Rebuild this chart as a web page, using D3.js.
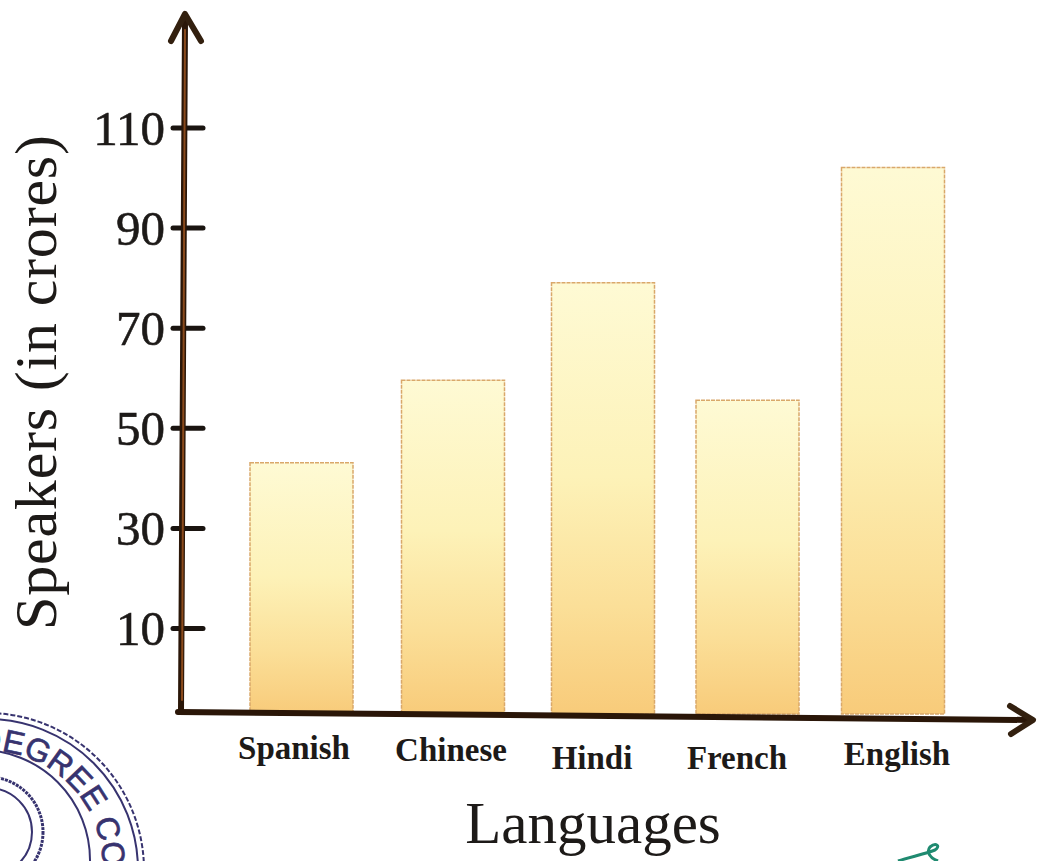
<!DOCTYPE html>
<html>
<head>
<meta charset="utf-8">
<script src="https://cdn.jsdelivr.net/npm/d3@7"></script>
<style>
    html, body { margin: 0; padding: 0; background: #fff; }
    svg { display: block; }
    text { font-family: "Liberation Serif", serif; fill: #1d1a18; }
</style>
</head>
<body>
<div id="chart"></div>
<script>
// Chart values
var languages = ['Spanish', 'Chinese', 'Hindi', 'French', 'English'];
var speakers = [43, 59.5, 79, 55.5, 102];
var yTicks = [10, 30, 50, 70, 90, 110];

var width = 1037, height = 861;
var svg = d3.select('#chart').append('svg')
    .attr('width', width)
    .attr('height', height);

// The printed axis is not to scale below 10, so the scale has a break there
var y = d3.scaleLinear()
    .domain([0, 10, 110])
    .range([712, 628, 127.5]);

// Bars are hand spaced in the original, so ordinal centres instead of a band scale
var barX = d3.scaleOrdinal().domain(languages).range([301.5, 453, 603, 747.5, 893]);
var labelX = d3.scaleOrdinal().domain(languages).range([294, 451, 592, 737, 897]);
var labelY = d3.scaleOrdinal().domain(languages).range([759, 761, 769, 769, 765]);
var barWidth = 103;

// Bar gradient
var defs = svg.append('defs');
var grad = defs.append('linearGradient')
    .attr('id', 'barFill')
    .attr('x1', 0).attr('y1', 0).attr('x2', 0).attr('y2', 1);
grad.append('stop').attr('offset', '0%').attr('stop-color', '#fefad4');
grad.append('stop').attr('offset', '45%').attr('stop-color', '#fdf2b8');
grad.append('stop').attr('offset', '75%').attr('stop-color', '#fbdf98');
grad.append('stop').attr('offset', '100%').attr('stop-color', '#f8cb7a');

// Bars
svg.selectAll('rect.bar')
    .data(languages)
    .enter()
    .append('rect')
    .attr('class', 'bar')
    .attr('x', function(d) { return barX(d) - barWidth / 2; })
    .attr('y', function(d, i) { return y(speakers[i]); })
    .attr('width', barWidth)
    .attr('height', function(d, i) { return y(0) - y(speakers[i]) + 2; })
    .attr('fill', 'url(#barFill)')
    .attr('stroke', '#d9a86a')
    .attr('stroke-width', 1.5)
    .attr('stroke-dasharray', '4 1');

// Y axis ticks and labels
var yAxis = d3.axisLeft(y).tickValues(yTicks).tickFormat(d3.format('d'));
var yG = svg.append('g').attr('transform', 'translate(183,0)').call(yAxis);
yG.select('.domain').remove();
yG.selectAll('.tick line')
    .attr('x1', -10).attr('x2', 20)
    .attr('stroke', '#1a1410')
    .attr('stroke-width', 5)
    .attr('stroke-linecap', 'round');
yG.selectAll('.tick text')
    .attr('x', -18)
    .attr('dy', '0.34em')
    .style('font-size', '49px')
    .style('font-family', '"Liberation Serif", serif')
    .attr('fill', '#1d1a18')
    .attr('stroke', '#1d1a18')
    .attr('stroke-width', 0.6);

// Axis lines with arrow heads, x axis sags slightly as in the photo
var axisPath = d3.line();
function drawAxis(points, color, w) {
    svg.append('path')
        .attr('d', axisPath(points))
        .attr('fill', 'none')
        .attr('stroke', color)
        .attr('stroke-width', w)
        .attr('stroke-linecap', 'round')
        .attr('stroke-linejoin', 'round');
}
drawAxis([[185, 20], [181, 712]], '#2a1608', 6);
drawAxis([[178, 712], [1030, 720]], '#2a1608', 6);
drawAxis([[171, 41], [185, 14], [201, 41]], '#33200f', 6);
drawAxis([[1010, 706], [1033, 720], [1011, 734]], '#33200f', 6);
// orange ink core of the printed lines
drawAxis([[185, 30], [182, 700]], '#8a4a1c', 2);

// Category labels
svg.selectAll('text.lang')
    .data(languages)
    .enter()
    .append('text')
    .attr('class', 'lang')
    .attr('x', function(d) { return labelX(d); })
    .attr('y', function(d) { return labelY(d); })
    .attr('text-anchor', 'middle')
    .style('font-size', '33px')
    .style('font-weight', 'bold')
    .text(function(d) { return d; });

// Axis titles
svg.append('text')
    .attr('transform', 'translate(56,630) rotate(-90)')
    .style('font-size', '60px')
    .style('letter-spacing', '0.8px')
    .text('Speakers (in crores)');

svg.append('text')
    .attr('x', 593)
    .attr('y', 843)
    .attr('text-anchor', 'middle')
    .style('font-size', '59px')
    .text('Languages');

// Rubber stamp showing in the corner of the photo
var stampColor = '#37336f';
var stamp = svg.append('g').attr('fill', 'none').attr('stroke', stampColor);
stamp.append('circle').attr('cx', -13).attr('cy', 870).attr('r', 157).attr('stroke-width', 2).attr('stroke-dasharray', '5 2');
stamp.append('circle').attr('cx', -13).attr('cy', 870).attr('r', 151).attr('stroke-width', 2);
stamp.append('circle').attr('cx', -20).attr('cy', 860).attr('r', 110).attr('stroke-width', 2);
stamp.append('circle').attr('cx', -12).attr('cy', 832).attr('r', 55).attr('stroke-width', 3).attr('stroke-dasharray', '3 1');
stamp.append('circle').attr('cx', -12).attr('cy', 832).attr('r', 44).attr('stroke-width', 2);

defs.append('path')
    .attr('id', 'stampArc')
    .attr('d', 'M -22 751 A 115 115 0 0 1 60 955');
svg.append('text')
    .append('textPath')
    .attr('href', '#stampArc')
    .style('font-family', '"Liberation Sans", sans-serif')
    .style('font-size', '32px')
    .style('fill', stampColor)
    .style('stroke', stampColor)
    .style('stroke-width', 0.7)
    .text('DEGREE COLLEGE');

// Pen mark at the bottom edge
svg.append('path')
    .attr('d', 'M 898 861 C 910 857 925 854 935 850 C 941 846 936 842 930 847 C 926 852 930 858 938 861')
    .attr('fill', 'none')
    .attr('stroke', '#1f8a70')
    .attr('stroke-width', 3);
</script>
</body>
</html>
